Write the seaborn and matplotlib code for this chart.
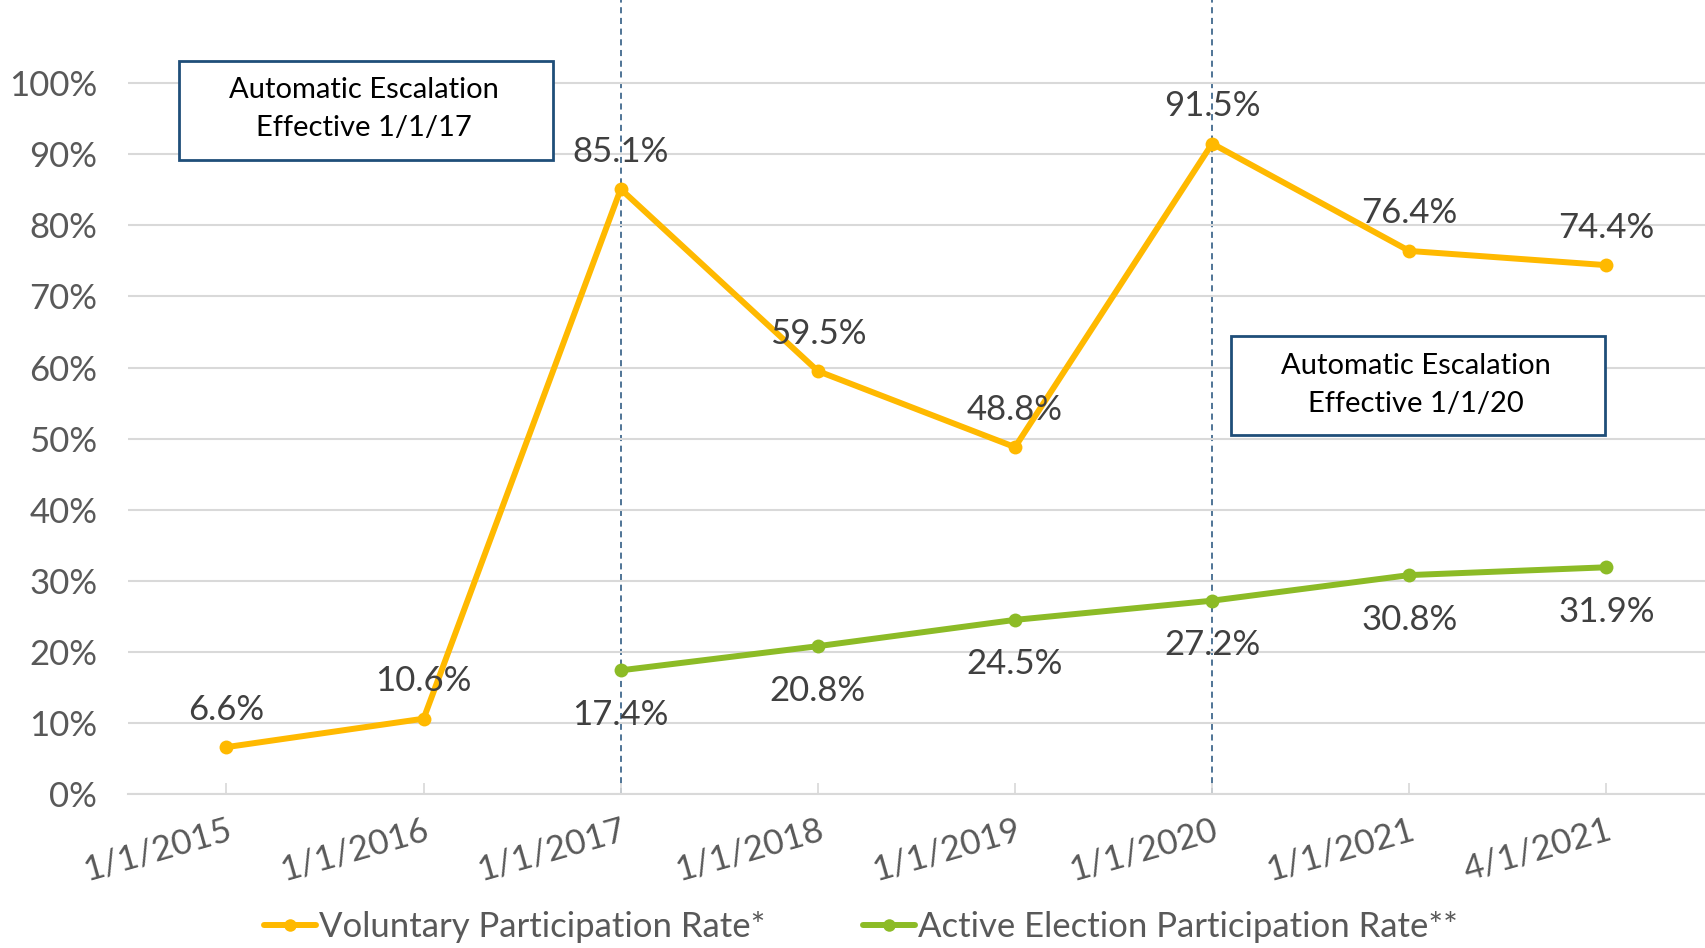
import pandas as pd
import numpy as np
import matplotlib
matplotlib.use('Agg')
import matplotlib.pyplot as plt
import seaborn as sns

# data
dates = ['1/1/2015', '1/1/2016', '1/1/2017', '1/1/2018', '1/1/2019',
         '1/1/2020', '1/1/2021', '4/1/2021']
voluntary = [6.6, 10.6, 85.1, 59.5, 48.8, 91.5, 76.4, 74.4]
active = [np.nan, np.nan, 17.4, 20.8, 24.5, 27.2, 30.8, 31.9]
vol_name = 'Voluntary Participation Rate*'
act_name = 'Active Election Participation Rate**'
escalation_dates = ['1/1/2017', '1/1/2020']

ORANGE = '#FFB900'
GREEN = '#8CBB26'
NAVY = '#1F4E79'

sns.set_theme(style='white')
plt.rcParams['font.family'] = ['Lato', 'DejaVu Sans']

df = pd.DataFrame({'date': dates * 2,
                   'pos': list(range(len(dates))) * 2,
                   'rate': np.array(voluntary + active) / 100,
                   'series': [vol_name] * len(dates) + [act_name] * len(dates)})
df = df.dropna()

fig = plt.figure(figsize=(17.05, 9.48), dpi=100)
ax = fig.add_axes([0.075, 0.1624, 0.925, 0.8376])

sns.lineplot(data=df, x='pos', y='rate', hue='series', palette=[ORANGE, GREEN],
             marker='o', markersize=10, markeredgewidth=0, linewidth=4.3,
             sort=False, ax=ax, legend=False)

# escalation markers
for d in escalation_dates:
    ax.axvline(dates.index(d), color=NAVY, ls=(0, (4, 3)), lw=1.1, zorder=0)

# data labels
for i, v in enumerate(voluntary):
    ax.annotate(f'{v:.1f}%', (i, v / 100), xytext=(0, 27), textcoords='offset points',
                ha='center', va='center', fontsize=25, color='#404040')
for i, v in enumerate(active):
    if np.isnan(v):
        continue
    ax.annotate(f'{v:.1f}%', (i, v / 100), xytext=(0, -32), textcoords='offset points',
                ha='center', va='center', fontsize=25, color='#404040')

ax.set_xlim(-0.5, len(dates) - 0.5)
ax.set_ylim(0, 1.117)
ax.set_yticks(np.arange(0, 1.01, 0.1))
ax.set_yticklabels([f'{int(round(t * 100))}%' for t in np.arange(0, 1.01, 0.1)])
ax.set_xticks(range(len(dates)))
ax.set_xticklabels(dates, rotation=16, ha='right', rotation_mode='anchor')
ax.tick_params(axis='y', labelsize=25, labelcolor='#595959', length=0, pad=22)
ax.tick_params(axis='x', labelsize=25, labelcolor='#595959', direction='in',
               length=8, color='#D9D9D9', bottom=True, pad=14)
ax.yaxis.grid(True, color='#D9D9D9', lw=1.5)
ax.set_axisbelow(True)
for s in ['top', 'right', 'left']:
    ax.spines[s].set_visible(False)
ax.spines['bottom'].set_color('#D9D9D9')
ax.spines['bottom'].set_linewidth(1.5)
ax.set_xlabel('')
ax.set_ylabel('')

# text boxes
fig.patches.append(plt.Rectangle((179 / 1705, 1 - 160 / 948), 374 / 1705, 99 / 948,
                                 transform=fig.transFigure, fc='white', ec=NAVY, lw=2, zorder=5))
fig.text(364 / 1705, 1 - 109 / 948, 'Automatic Escalation\nEffective 1/1/17',
         ha='center', va='center', fontsize=21, color='black', linespacing=1.6, zorder=6)
fig.patches.append(plt.Rectangle((1231 / 1705, 1 - 435 / 948), 374 / 1705, 99 / 948,
                                 transform=fig.transFigure, fc='white', ec=NAVY, lw=2, zorder=5))
fig.text(1416 / 1705, 1 - 385 / 948, 'Automatic Escalation\nEffective 1/1/20',
         ha='center', va='center', fontsize=21, color='black', linespacing=1.6, zorder=6)

# legend
handles = [plt.Line2D([], [], color=ORANGE, lw=4.3, marker='o', markersize=9, markeredgewidth=0),
           plt.Line2D([], [], color=GREEN, lw=4.3, marker='o', markersize=9, markeredgewidth=0)]
leg = fig.legend(handles, [vol_name, act_name], loc='center', bbox_to_anchor=(0.505, 0.022),
                 ncol=2, frameon=False, fontsize=25, handlelength=1.5, handletextpad=0.1,
                 columnspacing=2.8, borderpad=0)
for t in leg.get_texts():
    t.set_color('#595959')

fig.savefig('out.png', dpi=100)
